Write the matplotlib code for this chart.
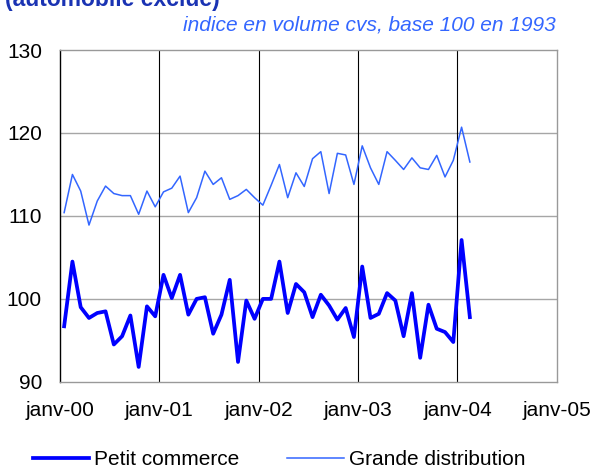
import matplotlib
matplotlib.use("Agg")
import matplotlib.pyplot as plt
import numpy as np

plt.rcParams['font.family'] = ['Liberation Sans', 'DejaVu Sans']

# indices mensuels, janv-2000 a fevr-2004
petit_commerce = [96.7, 104.5, 99.0, 97.7, 98.3, 98.5, 94.5, 95.5, 98.0, 91.8,
                  99.1, 97.9, 102.9, 100.1, 102.9, 98.1, 100.0, 100.2, 95.8, 98.1,
                  102.3, 92.4, 99.8, 97.6, 100.0, 100.0, 104.5, 98.3, 101.8, 100.8,
                  97.8, 100.5, 99.2, 97.5, 98.9, 95.4, 103.9, 97.7, 98.2, 100.7,
                  99.8, 95.5, 100.7, 92.9, 99.3, 96.4, 96.0, 94.8, 107.1, 97.8]
grande_distribution = [110.4, 115.0, 113.0, 108.9, 111.8, 113.6, 112.7, 112.45, 112.45, 110.2,
                       113.0, 111.1, 112.9, 113.35, 114.8, 110.4, 112.2, 115.4, 113.8, 114.6,
                       112.0, 112.45, 113.2, 112.2, 111.3, 113.7, 116.2, 112.2, 115.2, 113.55,
                       116.9, 117.75, 112.7, 117.55, 117.35, 113.8, 118.45, 115.8, 113.8, 117.75,
                       116.7, 115.6, 117.0, 115.8, 115.6, 117.3, 114.7, 116.7, 120.7, 116.5]
tick_labels = ['janv-00', 'janv-01', 'janv-02', 'janv-03', 'janv-04', 'janv-05']

months = np.arange(len(petit_commerce)) + 0.5

fig = plt.figure(figsize=(6, 4.72), dpi=100)
ax = fig.add_axes([0.1, 0.191, 0.828, 0.703])

ax.plot(months, petit_commerce, color='#0000ff', lw=2.7, label='Petit commerce')
ax.plot(months, grande_distribution, color='#3366ff', lw=1.1, label='Grande distribution')

ax.set_xlim(0, 60)
ax.set_ylim(90, 130)
ax.set_yticks([90, 100, 110, 120, 130])
ax.set_xticks(np.arange(0, 61, 12))
ax.set_xticklabels(tick_labels)
ax.tick_params(length=0, labelsize=15)
ax.tick_params(axis='y', pad=13)
ax.tick_params(axis='x', pad=14)

for y in [100, 110, 120]:
    ax.axhline(y, color='#a6a6a6', lw=1.0, zorder=0)
for x in [12, 24, 36, 48]:
    ax.axvline(x, color='black', lw=0.8, zorder=0)

for s in ['top', 'right', 'bottom']:
    ax.spines[s].set_color('#999999')
    ax.spines[s].set_linewidth(1.0)
ax.spines['left'].set_color('black')
ax.spines['left'].set_linewidth(1.0)

fig.text(0.008, 0.976, '(automobile exclue)', color='#1a33b3', fontsize=16.5,
         fontweight='bold', ha='left', va='bottom')
fig.text(0.927, 0.948, 'indice en volume cvs, base 100 en 1993', color='#3366ff',
         fontsize=15, style='italic', ha='right', va='center')

fig.legend(loc='lower center', bbox_to_anchor=(0.465, -0.033), ncol=2, frameon=False,
           fontsize=15, handlelength=2.7, handletextpad=0.25, columnspacing=2.3)

fig.savefig('out.png', dpi=100)
